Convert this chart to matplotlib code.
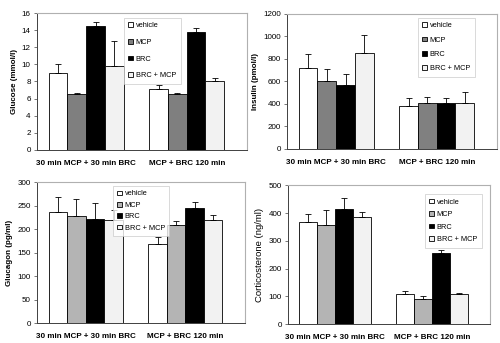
import numpy as np
import matplotlib
matplotlib.use("Agg")
import matplotlib.pyplot as plt

plt.rcParams["font.family"] = ["Liberation Sans", "DejaVu Sans"]

groups = ["30 min MCP + 30 min BRC", "MCP + BRC 120 min"]
treatments = ["vehicle", "MCP", "BRC", "BRC + MCP"]

# mean values per treatment, [group1, group2]
glucose = {"vehicle": [9.0, 7.1], "MCP": [6.5, 6.5], "BRC": [14.5, 13.8], "BRC + MCP": [9.75, 8.1]}
glucose_err = {"vehicle": [1.0, 0.45], "MCP": [0.2, 0.2], "BRC": [0.5, 0.5], "BRC + MCP": [3.0, 0.3]}

insulin = {"vehicle": [715, 385], "MCP": [600, 405], "BRC": [570, 405], "BRC + MCP": [855, 405]}
insulin_err = {"vehicle": [130, 65], "MCP": [110, 55], "BRC": [95, 50], "BRC + MCP": [155, 100]}

glucagon = {"vehicle": [237, 168], "MCP": [227, 209], "BRC": [221, 245], "BRC + MCP": [220, 220]}
glucagon_err = {"vehicle": [31, 15], "MCP": [38, 8], "BRC": [35, 12], "BRC + MCP": [20, 10]}

cort = {"vehicle": [368, 107], "MCP": [357, 90], "BRC": [413, 255], "BRC + MCP": [385, 108]}
cort_err = {"vehicle": [28, 13], "MCP": [53, 10], "BRC": [42, 12], "BRC + MCP": [20, 4]}

panels = [
    # data, err, ylabel, label style, ymax, ystep, axes rect, MCP colour, legend anchor, label spacing
    (glucose, glucose_err, "Glucose (mmol/l)", ("bold", 5.8), 16, 2,
     [0.074, 0.563, 0.42, 0.399], "#7f7f7f", (0.414, 0.964), 1.3),
    (insulin, insulin_err, "Insulin (pmol/l)", ("bold", 5.8), 1200, 200,
     [0.574, 0.566, 0.42, 0.394], "#808080", (0.624, 0.97), 1.0),
    (glucagon, glucagon_err, "Glucagon (pg/ml)", ("bold", 5.8), 300, 50,
     [0.074, 0.058, 0.416, 0.411], "#b4b4b4", (0.365, 0.972), 0.6),
    (cort, cort_err, "Corticosterone (ng/ml)", ("normal", 6.8), 500, 100,
     [0.576, 0.055, 0.404, 0.405], "#b4b4b4", (0.678, 0.935), 0.75),
]

fig = plt.figure(figsize=(5, 3.43), dpi=100)
x = np.arange(len(groups))
width = 0.186

for data, err, ylabel, (weight, lsize), ymax, ystep, rect, mcp_col, anchor, spacing in panels:
    ax = fig.add_axes(rect)
    colors = {"vehicle": "white", "MCP": mcp_col, "BRC": "black", "BRC + MCP": "#f2f2f2"}
    for i, t in enumerate(treatments):
        pos = x + (i - 1.5) * width
        ax.bar(pos, data[t], width, color=colors[t], edgecolor="black", lw=0.6,
               label=t, zorder=2)
        ax.errorbar(pos, data[t], yerr=[np.zeros(len(groups)), err[t]], fmt="none",
                    ecolor="black", elinewidth=0.6, capsize=2.2, capthick=0.6, zorder=3)
    ax.set_xlim(-0.489, 1.599)
    ax.set_ylim(0, ymax)
    ax.set_yticks(np.arange(0, ymax + ystep / 2, ystep))
    ax.set_xticks(x)
    ax.set_xticklabels(groups, fontsize=5.8, fontweight="bold")
    ax.tick_params(axis="x", length=0, pad=7)
    ax.tick_params(axis="y", labelsize=5.8, length=2.5, width=0.6, pad=2, color="#606060")
    ax.set_ylabel(ylabel, fontsize=lsize, fontweight=weight, labelpad=3)
    for side in ["left", "bottom"]:
        ax.spines[side].set_color("#404040")
        ax.spines[side].set_linewidth(0.7)
    for side in ["top", "right"]:
        ax.spines[side].set_color("#b0b0b0")
        ax.spines[side].set_linewidth(0.8)
    leg = ax.legend(loc="upper left", bbox_to_anchor=anchor, fontsize=5.3,
                    frameon=True, fancybox=False, edgecolor="#c8c8c8",
                    handlelength=0.6, handleheight=0.6, handletextpad=0.4,
                    labelspacing=spacing, borderpad=0.6, borderaxespad=0)
    leg.get_frame().set_linewidth(0.6)
    leg.set_zorder(5)

fig.savefig("out.png", dpi=100)
